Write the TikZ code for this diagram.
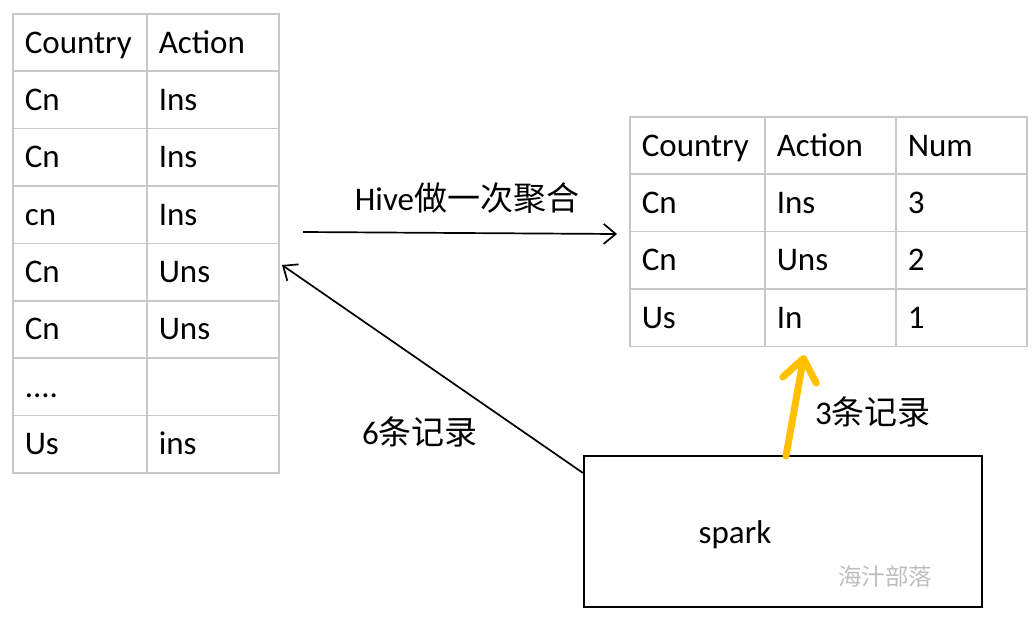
\documentclass[tikz,border=0pt]{standalone}
\usepackage{fontspec}
\setmainfont{Carlito}
\newfontfamily\cjk{Noto Sans CJK SC}
\usepackage{tikz}
\usetikzlibrary{arrows.meta, positioning, calc}

\definecolor{tblgray}{RGB}{200,200,200}
\definecolor{wmgray}{RGB}{190,190,190}
\definecolor{recyellow}{RGB}{255,192,0}
\newcommand{\fourdots}{....}

\begin{document}
\begin{tikzpicture}[x=1pt, y=-1pt, >={Straight Barb[length=12pt,width=20pt]}, font=\fontsize{33}{40}\selectfont]
            \tikzset{cell/.style={rectangle, draw=tblgray, line width=1.6pt, anchor=north west, minimum height=57.4pt,
                    inner xsep=12pt, inner ysep=0pt, text height=28pt, text depth=7pt, align=left}}
            \tikzset{flow/.style={->, line width=1.7pt}}
            \useasboundingbox (0,0) rectangle (1033,624);
            % raw records
            \foreach \c/\a [count=\i from 0] in {Country/Action, Cn/Ins, Cn/Ins, cn/Ins, Cn/Uns, Cn/Uns, \fourdots/{}, Us/ins} {
                \node[cell, text width=110pt] (raw\i c) at (12, 13+\i*57.375) {\c};
                \node[cell, text width=108pt] (raw\i a) at (146, 13+\i*57.375) {\a};
            }
            % aggregated records
            \foreach \c/\a/\n [count=\i from 0] in {Country/Action/Num, Cn/Ins/3, Cn/Uns/2, Us/In/1} {
                \node[cell, text width=111pt] (agg\i c) at (629, 116+\i*57.4) {\c};
                \node[cell, text width=107pt] (agg\i a) at (764, 116+\i*57.4) {\a};
                \node[cell, text width=107pt] (agg\i n) at (895, 116+\i*57.4) {\n};
            }
            \node[draw, line width=2.2pt, minimum width=398pt, minimum height=151pt, inner sep=0pt] (spark) at (783,531.5) {};
            \node (sparktxt) at (735,535) {spark};
            \node[text=wmgray, font=\cjk\fontsize{23.5}{28}\selectfont] (wm) at (885,577) {海汁部落};
            \coordinate (hivefrom) at (303,232);
            \coordinate (hiveto) at (617,234);
            \coordinate (rec6from) at ($(spark.north west)+(0,18)$);
            \coordinate (rec6to) at (282,265);
            \coordinate (rec3from) at (786,456);
            \coordinate (rec3to) at (804,355);
            \draw[flow] (hivefrom) -- (hiveto);
            \draw[flow] (rec6from) -- (rec6to);
            \draw[recyellow, line width=7pt, line cap=round, -{Straight Barb[length=22pt,width=34pt,round]}] (rec3from) -- (rec3to);
            \node (hivelbl) at (467,198) {Hive{\cjk 做一次聚合}};
            \node (rec6lbl) at (420,432) {6{\cjk 条记录}};
            \node (rec3lbl) at (873,412) {3{\cjk 条记录}};
        \end{tikzpicture}
\end{document}
